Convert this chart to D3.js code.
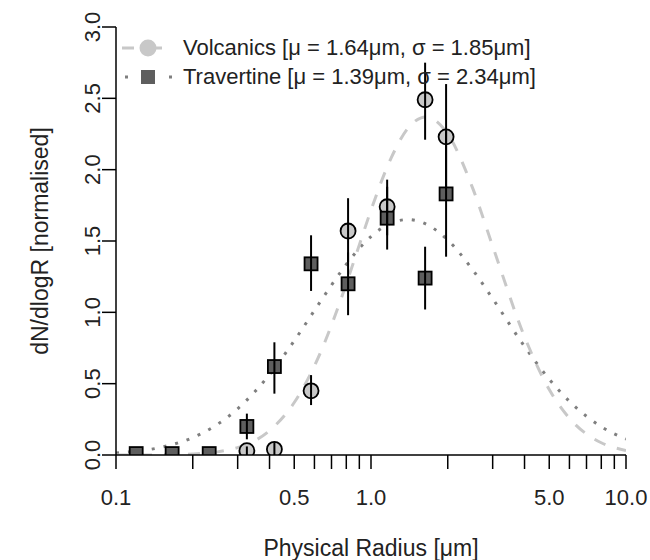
<!DOCTYPE html>
<html>
<head>
<meta charset="utf-8">
<script src="https://cdn.jsdelivr.net/npm/d3@7"></script>
<style>
  body { margin: 0; background: #fff; }
  text { font-family: "Liberation Sans", Arial, sans-serif; fill: #222; }
</style>
</head>
<body>
<div id="chart"></div>
<script>
// measured size bins [um]
var radius_volc = [0.326, 0.418, 0.582, 0.813, 1.157, 1.63, 1.97];
var volc_y  = [0.03, 0.04, 0.45, 1.57, 1.74, 2.49, 2.23];
var volc_lo = [0.00, 0.00, 0.35, 1.35, 1.54, 2.21, 1.87];
var volc_hi = [0.06, 0.09, 0.56, 1.80, 1.93, 2.75, 2.60];

var radius_trav = [0.12, 0.166, 0.232, 0.326, 0.418, 0.582, 0.813, 1.157, 1.63, 1.97];
var trav_y  = [0.01, 0.01, 0.01, 0.20, 0.62, 1.34, 1.20, 1.66, 1.24, 1.83];
var trav_lo = [0.01, 0.01, 0.01, 0.11, 0.43, 1.15, 0.98, 1.44, 1.02, 1.39];
var trav_hi = [0.01, 0.01, 0.01, 0.29, 0.79, 1.54, 1.42, 1.88, 1.46, 2.27];

// fitted curves
var curve_r_volc = [0.1, 0.15, 0.2, 0.25, 0.3, 0.35, 0.4, 0.5, 0.6, 0.7, 0.8, 0.9, 1.0, 1.2, 1.4, 1.64, 2.0, 2.5, 3, 4, 5, 6, 7, 8, 10];
var curve_volc   = [0.0001, 0.001, 0.007, 0.022, 0.052, 0.10, 0.171, 0.368, 0.624, 0.910, 1.200, 1.473, 1.716, 2.083, 2.293, 2.37, 2.250, 1.874, 1.464, 0.829, 0.459, 0.257, 0.147, 0.086, 0.032];
var curve_r_trav = [0.1, 0.15, 0.2, 0.25, 0.3, 0.35, 0.4, 0.5, 0.6, 0.7, 0.8, 0.9, 1.0, 1.2, 1.39, 1.6, 2.0, 2.5, 3, 4, 5, 6, 7, 8, 10];
var curve_trav   = [0.014, 0.054, 0.122, 0.215, 0.324, 0.443, 0.564, 0.801, 1.013, 1.191, 1.336, 1.448, 1.531, 1.626, 1.65, 1.628, 1.506, 1.300, 1.096, 0.761, 0.531, 0.376, 0.271, 0.198, 0.112];

var x_major = [0.1, 0.5, 1, 5, 10];
var x_major_labels = ["0.1", "0.5", "1.0", "5.0", "10.0"];
var x_minor = [0.2, 0.3, 0.4, 0.6, 0.7, 0.8, 0.9, 2, 3, 4, 6, 7, 8, 9];
var y_ticks = [0, 0.5, 1.0, 1.5, 2.0, 2.5, 3.0];

var legend_labels = ["Volcanics [\u03bc = 1.64\u03bcm, \u03c3 = 1.85\u03bcm]",
                     "Travertine [\u03bc = 1.39\u03bcm, \u03c3 = 2.34\u03bcm]"];

var color = {"volc": "#c8c8c8", "trav": "#5e5e5e", "curve_trav": "#7f7f7f"};

var width = 650, height = 560;
var m_left = 116, m_right = 626, m_top = 27, m_bottom = 455;

var svg = d3.select("#chart").append("svg")
  .attr("width", width)
  .attr("height", height);

var x = d3.scaleLog().domain([0.1, 10]).range([m_left, m_right]);
var y = d3.scaleLinear().domain([0, 3]).range([m_bottom, m_top]);

svg.append("clipPath").attr("id", "plotclip")
  .append("rect")
  .attr("x", m_left).attr("y", m_top)
  .attr("width", m_right - m_left).attr("height", m_bottom - m_top);

var plot = svg.append("g").attr("clip-path", "url(#plotclip)");

// curves
var line = d3.line()
  .x(function(d){ return x(d[0]); })
  .y(function(d){ return y(d[1]); })
  .curve(d3.curveMonotoneX);

plot.append("path")
  .datum(d3.zip(curve_r_trav, curve_trav))
  .attr("d", line)
  .attr("fill", "none")
  .attr("stroke", color["curve_trav"])
  .attr("stroke-width", 3)
  .attr("stroke-dasharray", "3,9");

plot.append("path")
  .datum(d3.zip(curve_r_volc, curve_volc))
  .attr("d", line)
  .attr("fill", "none")
  .attr("stroke", color["volc"])
  .attr("stroke-width", 3)
  .attr("stroke-dasharray", "12,12");

// points
plot.selectAll("circle.volc")
  .data(d3.range(radius_volc.length))
  .enter().append("circle")
  .attr("class", "volc")
  .attr("cx", function(i){ return x(radius_volc[i]); })
  .attr("cy", function(i){ return y(volc_y[i]); })
  .attr("r", 7.5)
  .attr("fill", color["volc"])
  .attr("stroke", "#000")
  .attr("stroke-width", 1.8);

var sq = 13;
plot.selectAll("rect.trav")
  .data(d3.range(radius_trav.length))
  .enter().append("rect")
  .attr("class", "trav")
  .attr("x", function(i){ return x(radius_trav[i]) - sq / 2; })
  .attr("y", function(i){ return y(trav_y[i]) - sq / 2; })
  .attr("width", sq)
  .attr("height", sq)
  .attr("fill", color["trav"])
  .attr("stroke", "#000")
  .attr("stroke-width", 1.8);

// error bars on top
function errorbars(r, lo, hi) {
  plot.append("g").selectAll("line")
    .data(d3.range(r.length).filter(function(i){ return hi[i] > lo[i]; }))
    .enter().append("line")
    .attr("x1", function(i){ return x(r[i]); })
    .attr("x2", function(i){ return x(r[i]); })
    .attr("y1", function(i){ return y(lo[i]); })
    .attr("y2", function(i){ return y(hi[i]); })
    .attr("stroke", "#000")
    .attr("stroke-width", 2);
}
errorbars(radius_volc, volc_lo, volc_hi);
errorbars(radius_trav, trav_lo, trav_hi);

// axes
var axes = svg.append("g").attr("stroke", "#000").attr("stroke-width", 1.5);
axes.append("line").attr("x1", m_left).attr("x2", m_right).attr("y1", m_bottom).attr("y2", m_bottom);
axes.append("line").attr("x1", m_left).attr("x2", m_left).attr("y1", m_bottom).attr("y2", m_top);

axes.selectAll("line.xt")
  .data(x_major.concat(x_minor))
  .enter().append("line")
  .attr("class", "xt")
  .attr("x1", function(d){ return x(d); })
  .attr("x2", function(d){ return x(d); })
  .attr("y1", m_bottom).attr("y2", m_bottom + 14);

axes.selectAll("line.yt")
  .data(y_ticks)
  .enter().append("line")
  .attr("class", "yt")
  .attr("x1", m_left - 14).attr("x2", m_left)
  .attr("y1", function(d){ return y(d); })
  .attr("y2", function(d){ return y(d); });

svg.selectAll("text.xl")
  .data(x_major)
  .enter().append("text")
  .attr("class", "xl")
  .attr("x", function(d){ return x(d); })
  .attr("y", 505)
  .attr("text-anchor", "middle")
  .style("font-size", "22px")
  .text(function(d, i){ return x_major_labels[i]; });

svg.selectAll("text.yl")
  .data(y_ticks)
  .enter().append("text")
  .attr("class", "yl")
  .attr("transform", function(d){ return "translate(100," + y(d) + ") rotate(-90)"; })
  .attr("text-anchor", "middle")
  .style("font-size", "22px")
  .text(function(d){ return d.toFixed(1); });

svg.append("text")
  .attr("x", (m_left + m_right) / 2)
  .attr("y", 556)
  .attr("text-anchor", "middle")
  .style("font-size", "23px")
  .text("Physical Radius [\u03bcm]");

svg.append("text")
  .attr("transform", "translate(48," + ((m_top + m_bottom) / 2) + ") rotate(-90)")
  .attr("text-anchor", "middle")
  .style("font-size", "23px")
  .text("dN/dlogR [normalised]");

// legend
var legend = svg.append("g");
var rows = [48, 77];
legend.append("line")
  .attr("x1", 122).attr("x2", 174).attr("y1", rows[0]).attr("y2", rows[0])
  .attr("stroke", color["volc"]).attr("stroke-width", 3)
  .attr("stroke-dasharray", "12,16");
legend.append("circle")
  .attr("cx", 148).attr("cy", rows[0]).attr("r", 8.5)
  .attr("fill", color["volc"]);
legend.append("line")
  .attr("x1", 125).attr("x2", 174).attr("y1", rows[1]).attr("y2", rows[1])
  .attr("stroke", color["curve_trav"]).attr("stroke-width", 3)
  .attr("stroke-dasharray", "3,41");
legend.append("rect")
  .attr("x", 141).attr("y", rows[1] - 7).attr("width", 14).attr("height", 14)
  .attr("fill", color["trav"]);
legend.selectAll("text")
  .data(legend_labels)
  .enter().append("text")
  .attr("x", 183)
  .attr("y", function(d, i){ return rows[i] + 7; })
  .style("font-size", "22px")
  .text(function(d){ return d; });
</script>
</body>
</html>
